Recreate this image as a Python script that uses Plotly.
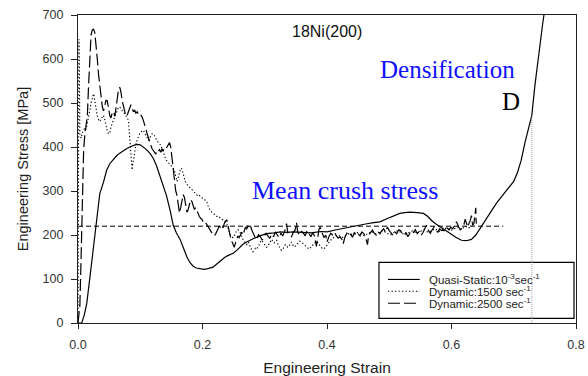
import plotly.graph_objects as go

# ---------------- data ----------------
qs_strain = [
    0.000, 0.006, 0.010, 0.014, 0.018, 0.022, 0.026, 0.030, 0.035, 0.041,
    0.046, 0.051, 0.057, 0.062, 0.067, 0.072, 0.078, 0.085, 0.094, 0.100,
    0.105, 0.110, 0.116, 0.121, 0.126, 0.132, 0.137, 0.142, 0.148, 0.153,
    0.158, 0.164, 0.170, 0.175, 0.180, 0.185, 0.190, 0.196, 0.202, 0.207,
    0.212, 0.217, 0.222, 0.228, 0.234, 0.239, 0.245, 0.250, 0.255, 0.260,
    0.265, 0.271, 0.276, 0.282, 0.292, 0.303, 0.315, 0.325, 0.335, 0.346,
    0.360, 0.375, 0.390, 0.400, 0.415, 0.425, 0.437, 0.450, 0.462, 0.475,
    0.485, 0.496, 0.507, 0.517, 0.525, 0.533, 0.545, 0.555, 0.562, 0.568,
    0.575, 0.582, 0.590, 0.598, 0.607, 0.616, 0.624, 0.632, 0.639, 0.646,
    0.654, 0.662, 0.672, 0.683, 0.692, 0.700, 0.706, 0.712, 0.718, 0.724,
    0.729, 0.734, 0.738, 0.742, 0.746, 0.750,
]
qs_stress = [
    0, 0, 18, 44, 90, 135, 180, 226, 294, 320,
    347, 362, 372, 380, 386, 391, 396, 401, 406, 405,
    400, 394, 385, 374, 358, 334, 312, 290, 256, 222,
    205, 190, 168, 150, 137, 129, 125, 123, 122, 123,
    125, 127, 133, 141, 147, 152, 156, 159, 165, 173,
    179, 184, 188, 192, 198, 203, 205, 207, 206, 207,
    206, 205, 208, 207, 212, 215, 218, 222, 225, 228,
    230, 237, 243, 249, 251, 252, 251, 249, 242, 233,
    225, 218, 210, 202, 195, 188, 187, 190, 200, 215,
    232, 252, 272, 292, 307, 322, 342, 370, 410, 444,
    472, 540, 590, 635, 675, 715,
]

dyn1500_strain = [
    0.000, 0.0005, 0.001, 0.0015, 0.002, 0.003, 0.005, 0.007, 0.009, 0.011,
    0.013, 0.015, 0.017, 0.019, 0.021, 0.023, 0.025, 0.027, 0.029, 0.031,
    0.033, 0.035, 0.037, 0.039, 0.041, 0.043, 0.045, 0.047, 0.049, 0.051,
    0.053, 0.055, 0.057, 0.059, 0.061, 0.063, 0.065, 0.067, 0.069, 0.071,
    0.073, 0.075, 0.077, 0.079, 0.081, 0.083, 0.085, 0.086, 0.087, 0.088,
    0.089, 0.091, 0.093, 0.095, 0.097, 0.099, 0.101, 0.103, 0.105, 0.107,
    0.109, 0.111, 0.113, 0.115, 0.117, 0.119, 0.121, 0.123, 0.125, 0.127,
    0.129, 0.131, 0.133, 0.135, 0.137, 0.139, 0.141, 0.143, 0.145, 0.147,
    0.149, 0.151, 0.153, 0.155, 0.157, 0.159, 0.161, 0.163, 0.165, 0.167,
    0.169, 0.171, 0.173, 0.175, 0.177, 0.179, 0.181, 0.183, 0.185, 0.187,
    0.189, 0.191, 0.193, 0.195, 0.197, 0.199, 0.201, 0.203, 0.205, 0.207,
    0.209, 0.211, 0.213, 0.215, 0.217, 0.219, 0.221, 0.223, 0.225, 0.227,
    0.229, 0.231, 0.233, 0.235, 0.237, 0.239, 0.241, 0.243, 0.245, 0.247,
    0.249, 0.251, 0.253, 0.255, 0.257, 0.259, 0.261, 0.263, 0.265, 0.267,
    0.269, 0.271, 0.273, 0.275, 0.277, 0.279, 0.281, 0.283, 0.285, 0.287,
    0.289, 0.291, 0.293, 0.295, 0.297, 0.299, 0.301, 0.303, 0.305, 0.307,
    0.309, 0.311, 0.313, 0.315, 0.317, 0.319, 0.321, 0.323, 0.325, 0.327,
    0.329, 0.331, 0.333, 0.335, 0.337, 0.339, 0.341, 0.343, 0.345, 0.347,
    0.350, 0.353, 0.356, 0.359, 0.362, 0.365, 0.368, 0.371, 0.374, 0.377,
    0.380, 0.383, 0.386, 0.389, 0.392, 0.395, 0.398, 0.401, 0.404, 0.407,
    0.412, 0.418, 0.424, 0.430, 0.436, 0.442, 0.448, 0.454, 0.460, 0.466,
    0.472, 0.478, 0.484, 0.490, 0.496, 0.502, 0.508, 0.514, 0.520, 0.526,
    0.532, 0.538, 0.544, 0.550, 0.556, 0.562, 0.568, 0.574, 0.580, 0.586,
    0.592, 0.598, 0.604, 0.610, 0.616, 0.622, 0.628, 0.632,
]
dyn1500_stress = [
    0, 300, 520, 645, 600, 430, 420, 432, 438, 444,
    440, 452, 470, 483, 500, 515, 521, 505, 485, 470,
    462, 458, 464, 470, 472, 462, 448, 436, 430, 432,
    445, 455, 462, 468, 475, 484, 490, 491, 486, 480,
    478, 476, 470, 466, 461, 420, 372, 355, 348, 360,
    370, 388, 406, 416, 424, 430, 434, 436, 438, 432,
    425, 418, 415, 420, 426, 430, 430, 426, 420, 414,
    410, 408, 404, 396, 386, 378, 372, 368, 365, 362,
    360, 356, 352, 345, 335, 322, 330, 345, 352, 350,
    340, 326, 318, 315, 312, 310, 306, 302, 300, 298,
    294, 292, 288, 290, 287, 286, 282, 280, 279, 275,
    266, 258, 254, 252, 250, 248, 244, 242, 240, 241,
    238, 236, 234, 232, 230, 226, 216, 206, 200, 196,
    194, 198, 206, 210, 212, 210, 204, 196, 190, 186,
    182, 178, 184, 182, 172, 166, 162, 165, 170, 168,
    172, 178, 184, 188, 184, 180, 176, 172, 175, 180,
    186, 190, 186, 182, 186, 188, 180, 172, 168, 165,
    168, 172, 178, 176, 172, 175, 180, 184, 178, 173,
    176, 182, 186, 184, 180, 176, 170, 168, 172, 178,
    182, 186, 180, 176, 170, 168, 174, 180, 186, 190,
    196, 200, 194, 198, 204, 200, 206, 202, 198, 204,
    208, 202, 206, 210, 204, 200, 206, 210, 204, 200,
    206, 210, 204, 208, 212, 206, 210, 214, 208, 212,
    216, 210, 214, 218, 212, 220, 216, 222,
]

dyn2500_strain = [
    0.000, 0.003, 0.005, 0.007, 0.009, 0.011, 0.013, 0.015, 0.017, 0.019,
    0.021, 0.023, 0.025, 0.027, 0.029, 0.031, 0.033, 0.035, 0.037, 0.039,
    0.041, 0.043, 0.045, 0.047, 0.049, 0.051, 0.053, 0.055, 0.057, 0.059,
    0.061, 0.063, 0.065, 0.067, 0.069, 0.071, 0.073, 0.075, 0.077, 0.079,
    0.081, 0.083, 0.085, 0.087, 0.089, 0.091, 0.093, 0.095, 0.097, 0.099,
    0.101, 0.103, 0.105, 0.107, 0.109, 0.111, 0.113, 0.115, 0.117, 0.119,
    0.121, 0.123, 0.125, 0.127, 0.129, 0.131, 0.133, 0.135, 0.137, 0.139,
    0.141, 0.143, 0.145, 0.147, 0.149, 0.151, 0.153, 0.155, 0.157, 0.159,
    0.161, 0.163, 0.165, 0.167, 0.169, 0.171, 0.173, 0.175, 0.177, 0.179,
    0.181, 0.183, 0.185, 0.187, 0.189, 0.191, 0.193, 0.195, 0.197, 0.199,
    0.201, 0.203, 0.205, 0.207, 0.209, 0.211, 0.213, 0.215, 0.217, 0.219,
    0.221, 0.223, 0.225, 0.227, 0.229, 0.231, 0.233, 0.235, 0.237, 0.239,
    0.241, 0.243, 0.245, 0.247, 0.249, 0.251, 0.253, 0.255, 0.257, 0.259,
    0.261, 0.263, 0.265, 0.267, 0.269, 0.271, 0.273, 0.275, 0.277, 0.279,
    0.281, 0.284, 0.287, 0.290, 0.293, 0.296, 0.299, 0.302, 0.305, 0.308,
    0.311, 0.314, 0.317, 0.320, 0.323, 0.326, 0.329, 0.332, 0.335, 0.337,
    0.340, 0.343, 0.346, 0.349, 0.351, 0.353, 0.356, 0.359, 0.362, 0.365,
    0.368, 0.371, 0.374, 0.377, 0.380, 0.383, 0.385, 0.387, 0.389, 0.392,
    0.395, 0.398, 0.400, 0.403, 0.406, 0.409, 0.412, 0.415, 0.418, 0.421,
    0.424, 0.426, 0.429, 0.432, 0.435, 0.438, 0.441, 0.444, 0.447, 0.450,
    0.453, 0.456, 0.459, 0.462, 0.465, 0.467, 0.470, 0.473, 0.476, 0.479,
    0.482, 0.485, 0.488, 0.491, 0.494, 0.497, 0.500, 0.503, 0.506, 0.509,
    0.512, 0.515, 0.518, 0.521, 0.524, 0.527, 0.530, 0.533, 0.536, 0.539,
    0.542, 0.545, 0.548, 0.551, 0.554, 0.557, 0.560, 0.563, 0.566, 0.569,
    0.572, 0.575, 0.578, 0.581, 0.584, 0.587, 0.590, 0.593, 0.596, 0.599,
    0.602, 0.605, 0.608, 0.611, 0.614, 0.617, 0.620, 0.622, 0.624, 0.626,
    0.628, 0.630, 0.632, 0.634, 0.636, 0.637, 0.638, 0.639, 0.6395, 0.640,
]
dyn2500_stress = [
    0, 40, 150, 300, 390, 430, 455, 470, 540, 620,
    655, 666, 668, 660, 635, 600, 565, 540, 515, 492,
    482, 495, 506, 505, 488, 472, 466, 478, 480, 470,
    488, 512, 530, 536, 525, 505, 492, 478, 470, 472,
    482, 490, 496, 488, 480, 484, 477, 480, 474, 470,
    472, 468, 460, 452, 442, 430, 420, 410, 402, 396,
    392, 386, 384, 392, 390, 394, 388, 396, 392, 397,
    395, 400, 404, 410, 400, 372, 345, 318, 300, 290,
    268, 250, 262, 280, 292, 285, 268, 252, 258, 272,
    280, 276, 265, 258, 262, 255, 246, 242, 238, 236,
    230, 226, 228, 224, 220, 214, 210, 205, 200, 198,
    202, 210, 214, 220, 218, 222, 216, 226, 232, 234,
    220, 205, 195, 186, 176, 172, 182, 192, 198, 194,
    202, 206, 200, 210, 218, 214, 220, 216, 221, 212,
    204, 196, 190, 201, 196, 188, 197, 204, 198, 192,
    202, 196, 207, 200, 194, 204, 198, 208, 226, 205,
    200, 196, 206, 212, 228, 206, 200, 208, 204, 198,
    210, 204, 196, 205, 198, 174, 200, 212, 218, 204,
    194, 200, 184, 196, 204, 200, 206, 198, 193, 196,
    190, 180, 196, 204, 198, 202, 195, 206, 199, 203,
    198, 207, 203, 196, 178, 200, 206, 211, 204, 200,
    208, 203, 210, 214, 206, 218, 210, 205, 199, 207,
    203, 212, 210, 204, 200, 206, 196, 204, 210, 206,
    212, 203, 208, 199, 205, 214, 222, 210, 204, 212,
    218, 213, 206, 214, 210, 211, 208, 216, 212, 218,
    214, 222, 230, 220, 212, 216, 224, 236, 225, 218,
    226, 232, 244, 222, 226, 240, 258, 262, 232, 226,
]

series_names = [
    "Quasi-Static:10<sup>-3</sup>sec<sup>-1</sup>",
    "Dynamic:1500 sec<sup>-1</sup>",
    "Dynamic:2500 sec<sup>-1</sup>",
]

MEAN_CRUSH_STRESS = 220       # MPa, dashed reference line
MEAN_LINE_END = 0.683         # strain where the mean line stops
DENS_STRAIN = 0.729           # densification strain (D)
DENS_STRESS = 472             # stress where the D marker meets the curve

x_ticks = [0.0, 0.2, 0.4, 0.6, 0.8]
y_ticks = [0, 100, 200, 300, 400, 500, 600, 700]

# ---------------- figure ----------------
SANS = "Liberation Sans, Arial, sans-serif"
SERIF = "Liberation Serif, Times New Roman, serif"

fig = go.Figure()

fig.add_trace(go.Scatter(x=[0, MEAN_LINE_END], y=[MEAN_CRUSH_STRESS] * 2,
                         mode="lines", line=dict(color="black", width=1, dash="5px,3px"),
                         showlegend=False, hoverinfo="skip"))
fig.add_trace(go.Scatter(x=dyn1500_strain, y=dyn1500_stress, mode="lines",
                         line=dict(color="black", width=1.1, dash="1.3px,2.2px"),
                         name=series_names[1], showlegend=False))
fig.add_trace(go.Scatter(x=dyn2500_strain, y=dyn2500_stress, mode="lines",
                         line=dict(color="black", width=1.2, dash="12px,4px"),
                         name=series_names[2], showlegend=False))
fig.add_trace(go.Scatter(x=qs_strain, y=qs_stress, mode="lines",
                         line=dict(color="black", width=1.2),
                         name=series_names[0], showlegend=False))

# manual legend (box, samples, labels)
leg_x0, leg_x1, leg_y0, leg_y1 = 0.4835, 0.7968, 10.7, 138
row_y = [99, 72, 45]
sample_x0, sample_x1, text_x = 0.498, 0.549, 0.560
dashes = ["solid", "1.3px,2.2px", "12px,4px"]

shapes = [dict(type="rect", xref="x", yref="y", x0=leg_x0, x1=leg_x1, y0=leg_y0, y1=leg_y1,
               line=dict(color="black", width=1.2), fillcolor="white", layer="below")]
annotations = []
for name, yy, dsh in zip(series_names, row_y, dashes):
    shapes.append(dict(type="line", xref="x", yref="y", x0=sample_x0, x1=sample_x1, y0=yy, y1=yy,
                       line=dict(color="black", width=1.1, dash=dsh), layer="below"))
    annotations.append(dict(x=text_x, y=yy, xref="x", yref="y", text=name, showarrow=False,
                            xanchor="left", yanchor="middle",
                            font=dict(family=SANS, size=11.5, color="#222")))

# densification marker line (drawn over the legend box)
fig.add_trace(go.Scatter(x=[DENS_STRAIN, DENS_STRAIN], y=[0, DENS_STRESS], mode="lines",
                         line=dict(color="#888", width=0.8, dash="1px,1px"),
                         showlegend=False, hoverinfo="skip"))

annotations += [
    dict(x=0.40, y=663, xref="x", yref="y", text="18Ni(200)", showarrow=False,
         font=dict(family=SANS, size=16, color="#111")),
    dict(x=0.594, y=576, xref="x", yref="y", text="Densification", showarrow=False,
         font=dict(family=SERIF, size=25, color="#1010ff")),
    dict(x=0.696, y=503, xref="x", yref="y", text="D", showarrow=False,
         font=dict(family=SERIF, size=25, color="black")),
    dict(x=0.429, y=301, xref="x", yref="y", text="Mean crush stress", showarrow=False,
         font=dict(family=SERIF, size=26, color="#1010ff")),
]

fig.update_layout(
    width=588, height=376,
    margin=dict(l=78, r=12, t=15, b=53),
    paper_bgcolor="white", plot_bgcolor="white",
    shapes=shapes, annotations=annotations,
    showlegend=False,
)
fig.update_xaxes(range=[0, 0.8], tickvals=x_ticks, ticktext=[f"{v:.1f}" for v in x_ticks],
                 automargin=False,
                 showgrid=False, zeroline=False, showline=True, linecolor="#222", linewidth=1.2,
                 mirror=True, ticks="outside", ticklen=5, tickcolor="#222",
                 ticklabelstandoff=5,
                 tickfont=dict(family=SANS, size=12.5, color="#333"),
                 title=dict(text="Engineering Strain", font=dict(family=SANS, size=15.5, color="#222"),
                            standoff=13))
fig.update_yaxes(range=[0, 700], tickvals=y_ticks,
                 automargin=False,
                 showgrid=False, zeroline=False, showline=True, linecolor="#222", linewidth=1.2,
                 mirror=True, ticks="outside", ticklen=6, tickcolor="#222",
                 ticklabelstandoff=5,
                 tickfont=dict(family=SANS, size=12.5, color="#333"),
                 title=dict(text="Engineering Stress [MPa]", font=dict(family=SANS, size=14.5, color="#222"),
                            standoff=10))

fig.write_html("out.html")
